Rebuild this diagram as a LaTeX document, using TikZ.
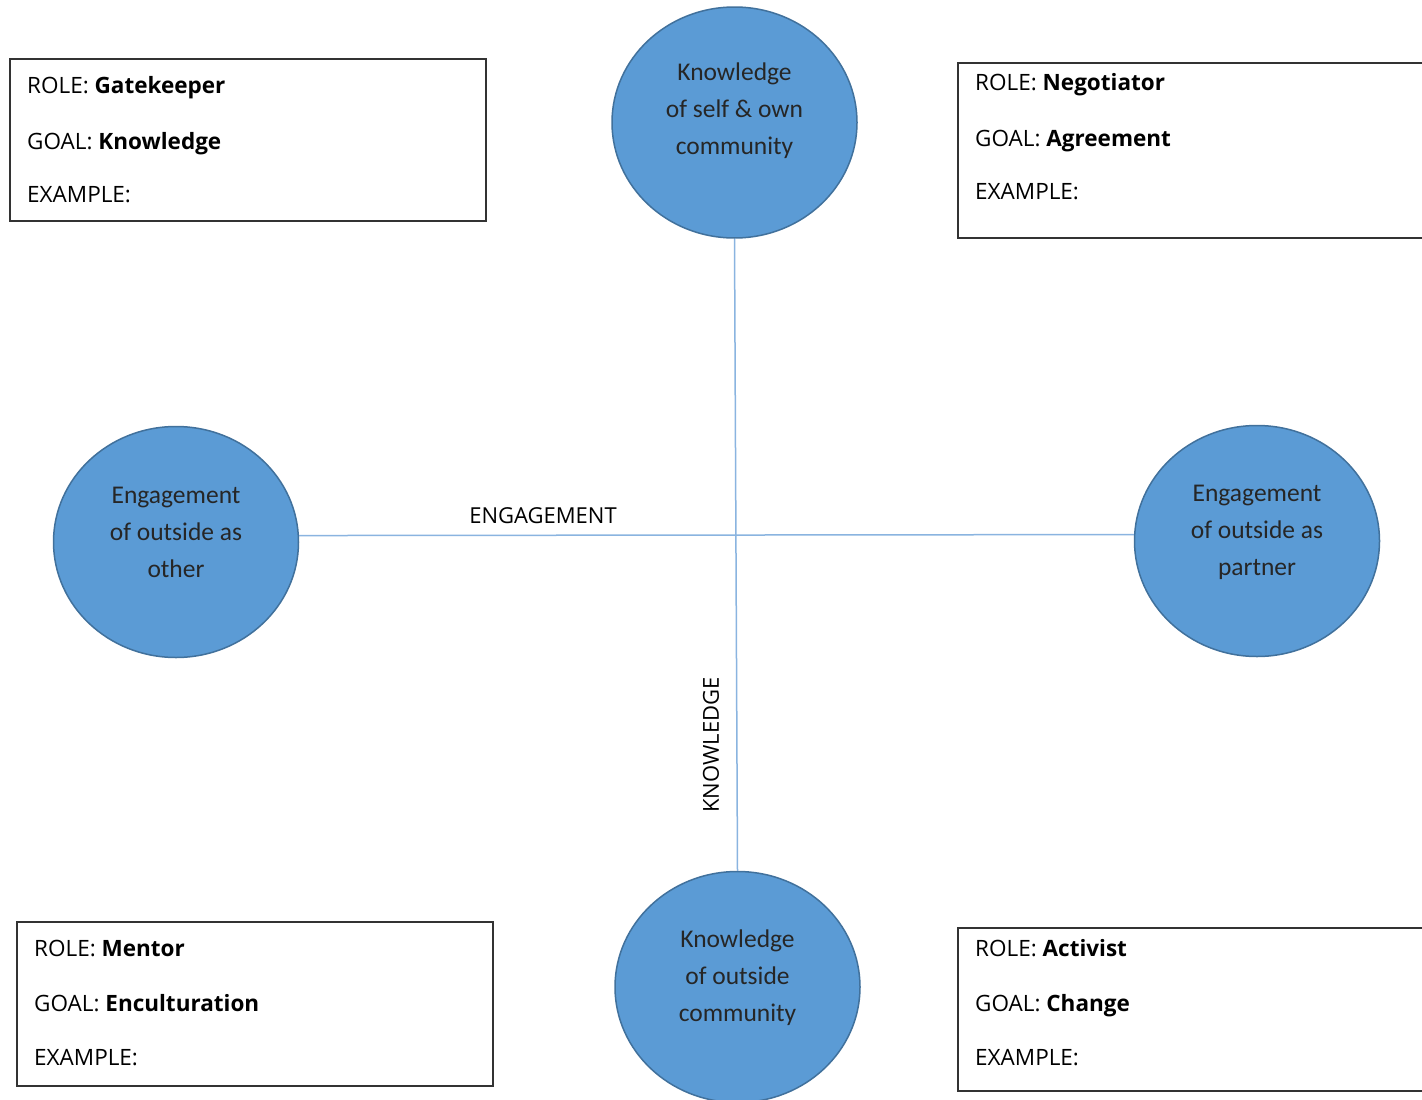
\documentclass[tikz,border=0pt]{standalone}
\usepackage{fontspec}
\setmainfont{Open Sans}
\newfontfamily\circfont{Carlito}
\usetikzlibrary{shapes.geometric,calc}
\definecolor{cfill}{HTML}{5B9BD5}
\definecolor{cedge}{HTML}{41719C}
\definecolor{axis}{HTML}{8AB4E0}
\begin{document}
\begin{tikzpicture}[x=1pt,y=-1pt,
  circ/.style={ellipse,draw=cedge,fill=cfill,line width=1.5pt,minimum width=245pt,minimum height=231pt,inner sep=0pt},
  ctext/.style={align=center,font=\circfont\fontsize{25.5}{37}\selectfont,text=black!85},
  rolebox/.style={draw=black!80,line width=1.2pt},
  btext/.style={anchor=base west,font=\fontsize{22.5}{24}\selectfont,inner sep=0pt},
  axisline/.style={draw=axis,line width=1.5pt},
  axlabel/.style={font=\fontsize{22}{24}\selectfont,inner sep=0pt}]
\useasboundingbox (0,0) rectangle (1422,1100);
\clip (0,0) rectangle (1422,1100);
\fill[white] (0,0) rectangle (1422,1100);
% circles
\node[circ] (top) at (734.5,122.5) {};
\node[circ] (left) at (176,542) {};
\node[circ] (right) at (1257,541) {};
\node[circ] (bot) at (737.5,987) {};
\node[ctext] (toptxt) at (734.5,111) {Knowledge\\of self \& own\\community};
\node[ctext] (lefttxt) at (176,532) {Engagement\\of outside as\\other};
\node[ctext] (righttxt) at (1257,532) {Engagement\\of outside as\\partner};
\node[ctext] (bottxt) at (737.5,978) {Knowledge\\of outside\\community};
% axes
\draw[axisline] (top.south) -- (bot.north);
\draw[axisline] (left.3.5) -- (right.177);
\node[axlabel] (eng) at (543,516) {ENGAGEMENT};
\node[axlabel,rotate=90] (kno) at (711,745) {KNOWLEDGE};
% boxes
\draw[rolebox] (10,59) rectangle (486,221);
\node[btext] (tl1) at (27,93) {ROLE: \textbf{Gatekeeper}};
\node[btext] (tl2) at (27,149) {GOAL: \textbf{Knowledge}};
\node[btext] (tl3) at (27,202) {EXAMPLE:};
\draw[rolebox] (958,63) rectangle (1432,238);
\node[btext] (tr1) at (975,90) {ROLE: \textbf{Negotiator}};
\node[btext] (tr2) at (975,146) {GOAL: \textbf{Agreement}};
\node[btext] (tr3) at (975,199) {EXAMPLE:};
\draw[rolebox] (17,922) rectangle (493,1086);
\node[btext] (bl1) at (34,956) {ROLE: \textbf{Mentor}};
\node[btext] (bl2) at (34,1011) {GOAL: \textbf{Enculturation}};
\node[btext] (bl3) at (34,1065) {EXAMPLE:};
\draw[rolebox] (958,928) rectangle (1432,1091);
\node[btext] (br1) at (975,956) {ROLE: \textbf{Activist}};
\node[btext] (br2) at (975,1011) {GOAL: \textbf{Change}};
\node[btext] (br3) at (975,1065) {EXAMPLE:};
\end{tikzpicture}
\end{document}
